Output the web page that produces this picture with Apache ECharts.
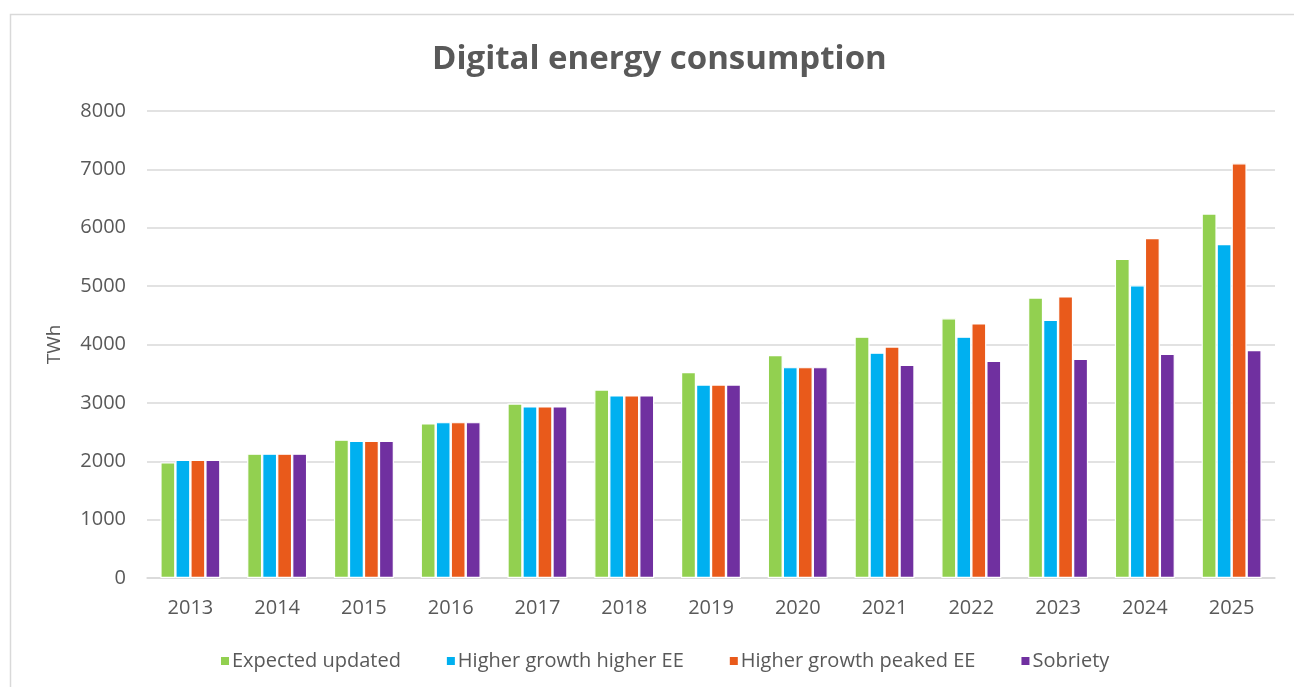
<!DOCTYPE html>
<html>
<head>
<meta charset="utf-8">
<script src="https://cdn.jsdelivr.net/npm/echarts@6/dist/echarts.min.js"></script>
<style>
  html, body { margin: 0; padding: 0; background: #fff; }
  #container { width: 1294px; height: 687px; }
</style>
</head>
<body>
<div id="container"></div>
<script>
const years = ['2013', '2014', '2015', '2016', '2017', '2018', '2019', '2020', '2021', '2022', '2023', '2024', '2025'];
const expectedUpdated = [1980, 2130, 2370, 2650, 2990, 3230, 3530, 3820, 4135, 4450, 4805, 5470, 6245];
const higherGrowthHigherEE = [2025, 2130, 2350, 2670, 2940, 3130, 3315, 3612, 3860, 4135, 4425, 5015, 5720];
const higherGrowthPeakedEE = [2025, 2130, 2350, 2670, 2940, 3130, 3315, 3612, 3967, 4362, 4825, 5825, 7105];
const sobriety = [2025, 2130, 2350, 2670, 2940, 3130, 3315, 3612, 3653, 3720, 3756, 3842, 3905];

const seriesNames = ['Expected updated', 'Higher growth higher EE', 'Higher growth peaked EE', 'Sobriety'];
const seriesColors = ['#92D050', '#00B0F0', '#E95A1B', '#7030A0'];
const seriesData = [expectedUpdated, higherGrowthHigherEE, higherGrowthPeakedEE, sobriety];

let dom = document.getElementById('container');
let myChart = echarts.init(dom);
const font = '"Open Sans", Lato, sans-serif';

let option = {
    animation: false,
    textStyle: { fontFamily: font },
    title: {
        text: 'Digital energy consumption',
        left: 427,
        top: 38,
        textStyle: { fontSize: 33, fontWeight: 'bold', color: '#595959', fontFamily: font }
    },
    graphic: [{
        type: 'rect',
        left: 8,
        top: 12,
        shape: { width: 1300, height: 700 },
        style: { fill: 'none', stroke: '#d9d9d9', lineWidth: 1.5 },
        silent: true
    }],
    legend: {
        top: 646,
        left: 214,
        itemWidth: 10,
        itemHeight: 10,
        itemGap: 44,
        icon: 'rect',
        textStyle: { fontSize: 20, color: '#595959', fontFamily: font, padding: [0, 0, 0, -3] },
        data: seriesNames
    },
    grid: {
        left: 147,
        right: 19,
        top: 111,
        bottom: 109,
        containLabel: false
    },
    xAxis: {
        type: 'category',
        data: years,
        axisTick: { show: false },
        axisLine: { lineStyle: { color: '#d9d9d9', width: 1.5 } },
        axisLabel: { fontSize: 20, color: '#595959', margin: 20 }
    },
    yAxis: {
        type: 'value',
        min: 0,
        max: 8000,
        interval: 1000,
        name: 'TWh',
        nameLocation: 'middle',
        nameGap: 83,
        nameTextStyle: { fontSize: 19, color: '#595959' },
        axisLabel: { fontSize: 20, color: '#595959', margin: 21, formatter: function (v) { return String(v); } },
        splitLine: { lineStyle: { color: '#d9d9d9', width: 1.5 } }
    },
    series: seriesNames.map(function (name, i) {
        return {
            name: name,
            type: 'bar',
            data: seriesData[i],
            barWidth: 15,
            barGap: '0%',
            itemStyle: { color: seriesColors[i], borderColor: '#fff', borderWidth: 1.2 }
        };
    })
};

myChart.setOption(option, true);
</script>
</body>
</html>
